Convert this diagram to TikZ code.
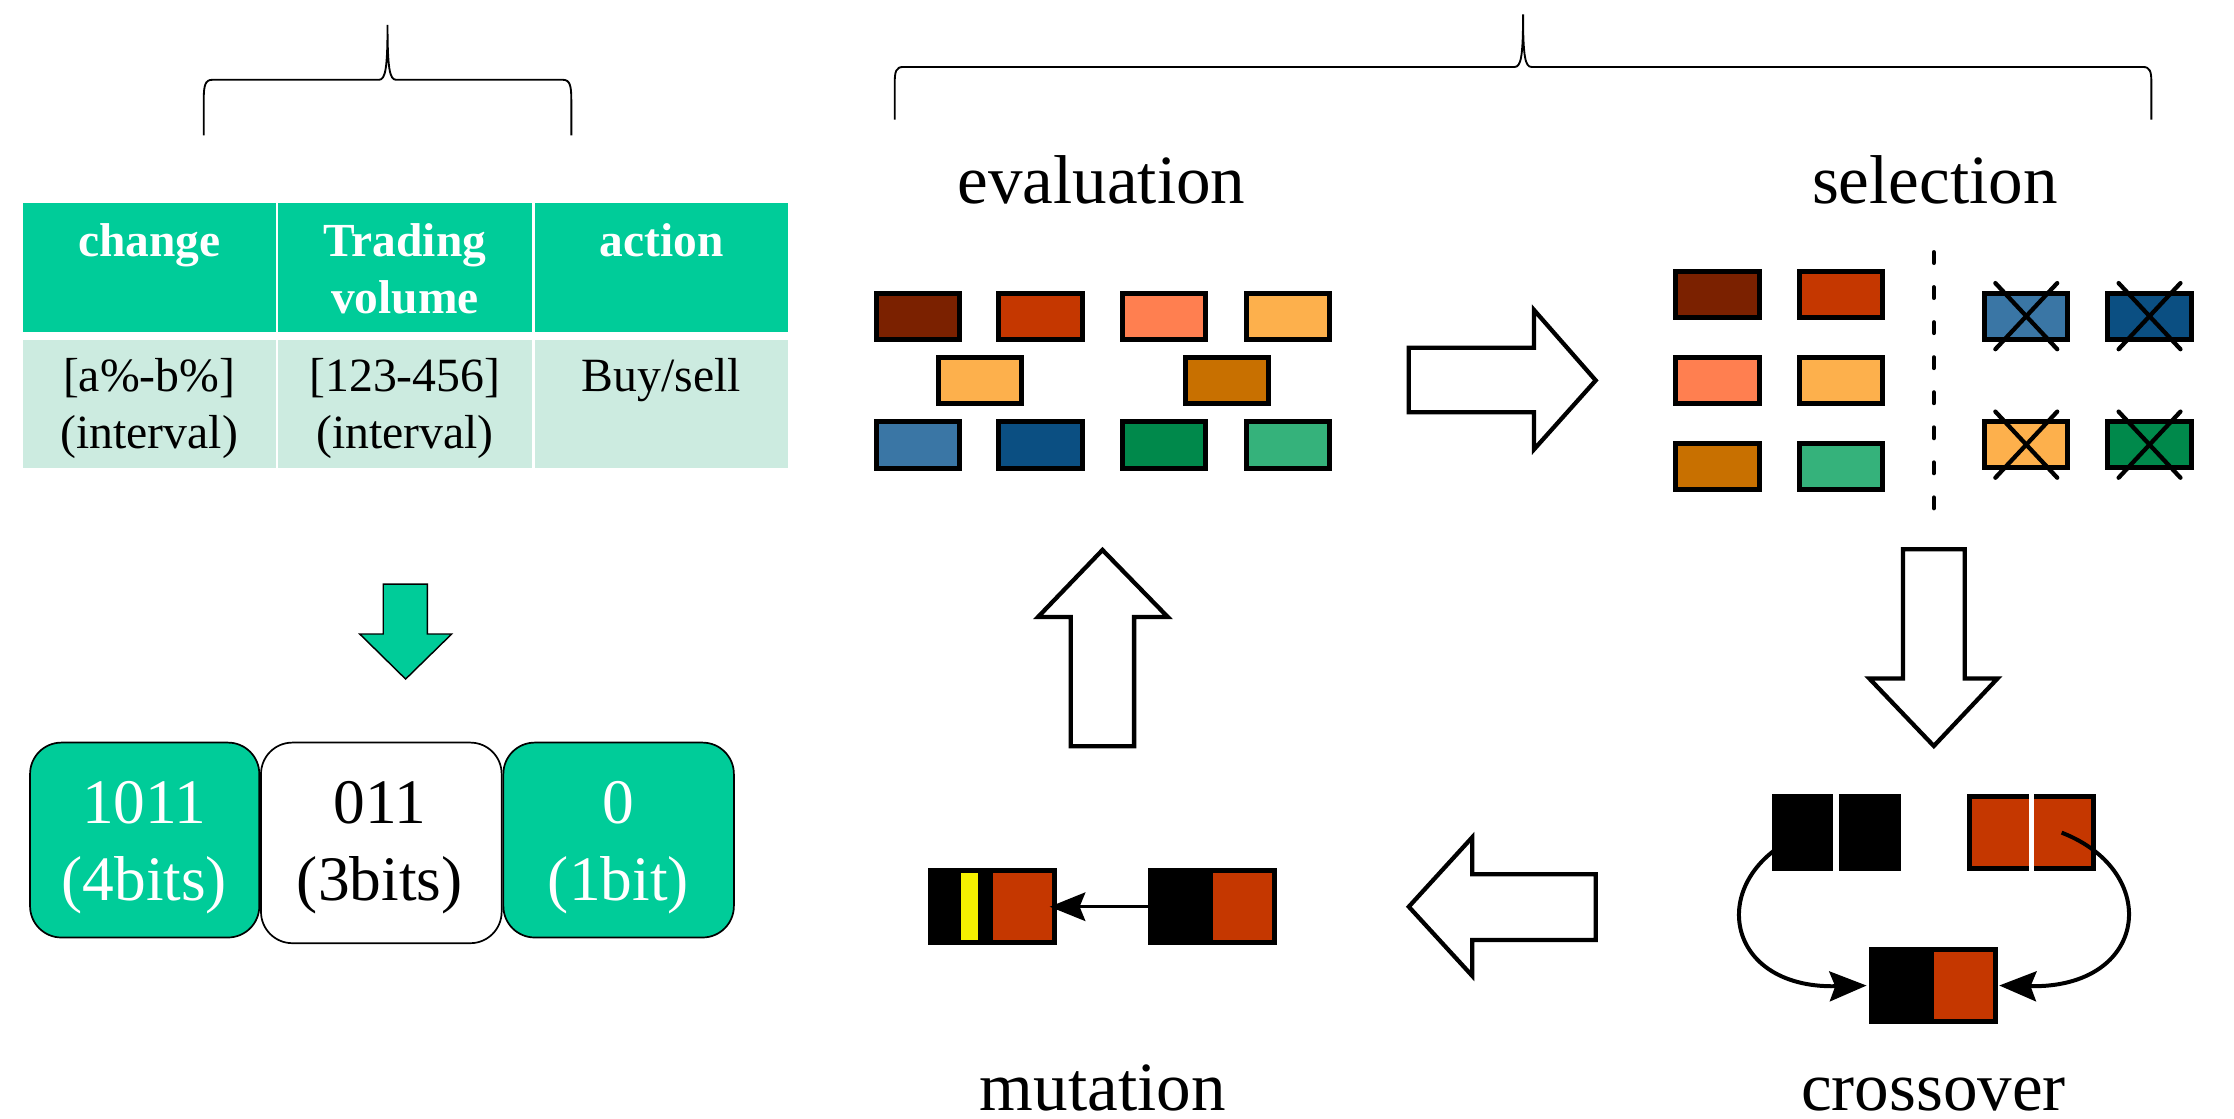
\documentclass[tikz,border=0pt]{standalone}
\usepackage{fontspec}
\setmainfont{Liberation Serif}
\usetikzlibrary{arrows.meta}

\definecolor{tblgreen}{HTML}{00CC99}
\definecolor{tbllight}{HTML}{CCEBE0}
\definecolor{gDarkBrown}{HTML}{7B2100}
\definecolor{gRust}{HTML}{C53700}
\definecolor{gCoral}{HTML}{FF7F50}
\definecolor{gApricot}{HTML}{FDB04C}
\definecolor{gOchre}{HTML}{C87000}
\definecolor{gSteel}{HTML}{3A76A5}
\definecolor{gNavy}{HTML}{0B4F82}
\definecolor{gGreen}{HTML}{00894B}
\definecolor{gMint}{HTML}{35B27B}
\definecolor{gYellow}{HTML}{F5F000}

\begin{document}
\begin{tikzpicture}[x=1pt, y=-1pt,
  brace/.style={draw=black, line width=1.3pt},
  cell/.style={inner sep=0pt, outer sep=0pt, minimum height=90pt},
  htext/.style={text=white, font=\fontsize{33.3}{40}\selectfont\bfseries, inner sep=0pt, align=center},
  btext/.style={text=black, font=\fontsize{33.5}{39.7}\selectfont, inner sep=0pt, align=center},
  bitbox/.style={draw=black, line width=1.2pt, rounded corners=22pt, inner sep=0pt, outer sep=0pt},
  bittext/.style={font=\fontsize{44.5}{53.8}\selectfont, inner sep=0pt, align=center},
  steplabel/.style={font=\fontsize{48.5}{58}\selectfont, inner sep=0pt, anchor=base},
  gene/.style={draw=black, line width=3.5pt, minimum width=58.5pt, minimum height=32.5pt, inner sep=0pt, outer sep=0pt},
  chrom/.style={draw=black, line width=3.5pt, minimum width=87pt, minimum height=50.3pt, inner sep=0pt, outer sep=0pt},
  bigarrow/.style={draw=black, fill=white, line width=3pt, line join=miter},
  xline/.style={draw=black, line width=3pt, line cap=round},
  divider/.style={draw=black, line width=3pt, line cap=round, dash pattern=on 7.5pt off 17.1pt},
  mutarrow/.style={draw=black, line width=2.3pt, -{Stealth[length=25pt, width=20pt, inset=4pt]}},
  crossarrow/.style={draw=black, line width=2.8pt, -{Stealth[length=26pt, width=21pt, inset=4pt]}}
]
\useasboundingbox (0,0) rectangle (1568,785);

% ---------- braces ----------
\draw[brace] (143,95) -- (143,70) .. controls (143,60) and (144,56) .. (149,56) -- (266,56)
  .. controls (270.5,56) and (272,48) .. (272,17.5)
  .. controls (272,48) and (273.5,56) .. (278,56) -- (395,56)
  .. controls (400,56) and (401,60) .. (401,70) -- (401,95);
\draw[brace] (628,84) -- (628,58) .. controls (628,50) and (629,47) .. (634,47) -- (1063,47)
  .. controls (1067.5,47) and (1069,40) .. (1069,10)
  .. controls (1069,40) and (1070.5,47) .. (1075,47) -- (1504,47)
  .. controls (1509,47) and (1510,50) .. (1510,58) -- (1510,84);

% ---------- rule table ----------
\node[cell, fill=tblgreen, minimum width=177.4pt, minimum height=90.5pt] (h1) at (104.7,187.55) {};
\node[cell, fill=tblgreen, minimum width=177.9pt, minimum height=90.5pt] (h2) at (284.15,187.55) {};
\node[cell, fill=tblgreen, minimum width=178pt, minimum height=90.5pt] (h3) at (464.3,187.55) {};
\node[cell, fill=tbllight, minimum width=177.4pt] (b1) at (104.7,283.7) {};
\node[cell, fill=tbllight, minimum width=177.9pt] (b2) at (284.15,283.7) {};
\node[cell, fill=tbllight, minimum width=178pt] (b3) at (464.3,283.7) {};

% (a multi-line node's base anchor sits on its last line)
\node[htext, anchor=base] (th1) at (104.7,180.2) {change};
\node[htext, anchor=base] (th2) at (284.2,220.2) {Trading\\volume};
\node[htext, anchor=base] (th3) at (464.3,180.2) {action};
\node[btext, anchor=base] (tb1) at (104.7,314.7) {[a\%-b\%]\\(interval)};
\node[btext, anchor=base] (tb2) at (284.2,314.7) {[123-456]\\(interval)};
\node[btext, anchor=base] (tb3) at (464.3,275) {Buy/sell};

% ---------- encoding arrow ----------
\filldraw[fill=tblgreen, draw=black, line width=1pt, line join=miter]
  (269,410) -- (300,410) -- (300,445) -- (317,445) -- (284.7,476.6) -- (252.5,445) -- (269,445) -- cycle;

% ---------- bit string ----------
\node[bitbox, fill=tblgreen, minimum width=160.9pt, minimum height=136.8pt] (bit1) at (101.55,589.6) {};
\node[bitbox, fill=tblgreen, minimum width=161.8pt, minimum height=136.8pt] (bit3) at (434.2,589.6) {};
\node[bitbox, fill=white, minimum width=168.9pt, minimum height=140.8pt] (bit2) at (267.65,591.6) {};
\node[bittext, text=white, anchor=base] (bt1) at (101.3,631.7) {1011\\(4bits)};
\node[bittext, text=black, anchor=base] (bt2) at (266.5,631.7) {011\\(3bits)};
\node[bittext, text=white, anchor=base] (bt3) at (434,631.7) {0\\(1bit)};

% ---------- step labels ----------
\node[steplabel] (lEval) at (773,142.6) {evaluation};
\node[steplabel] (lSel) at (1358,142.6) {selection};
\node[steplabel] (lMut) at (774,779.5) {mutation};
\node[steplabel] (lCross) at (1357,779.5) {crossover};

% ---------- evaluation population ----------
\node[gene, fill=gDarkBrown] (e1) at (644.3,222.1) {};
\node[gene, fill=gRust]      (e2) at (730.4,222.1) {};
\node[gene, fill=gCoral]     (e3) at (817.2,222.1) {};
\node[gene, fill=gApricot]   (e4) at (903.9,222.1) {};
\node[gene, fill=gApricot]   (e5) at (687.7,267.1) {};
\node[gene, fill=gOchre]     (e6) at (861.1,267.1) {};
\node[gene, fill=gSteel]     (e7) at (644.3,312.4) {};
\node[gene, fill=gNavy]      (e8) at (730.4,312.4) {};
\node[gene, fill=gGreen]     (e9) at (817.2,312.4) {};
\node[gene, fill=gMint]      (e10) at (903.9,312.4) {};

% ---------- selection ----------
\node[gene, fill=gDarkBrown] (s1) at (1205.4,206.5) {};
\node[gene, fill=gRust]      (s2) at (1292.1,206.5) {};
\node[gene, fill=gCoral]     (s3) at (1205.4,266.9) {};
\node[gene, fill=gApricot]   (s4) at (1292.1,266.9) {};
\node[gene, fill=gOchre]     (s5) at (1205.4,327.5) {};
\node[gene, fill=gMint]      (s6) at (1292.1,327.5) {};

\draw[divider] (1357.3,177) -- (1357.3,356.7);

\node[gene, fill=gSteel]   (r1) at (1422.2,221.9) {};
\node[gene, fill=gNavy]    (r2) at (1508.7,221.9) {};
\node[gene, fill=gApricot] (r3) at (1422.2,312.1) {};
\node[gene, fill=gGreen]   (r4) at (1508.7,312.1) {};
\foreach \r in {r1,r2,r3,r4}{
  \draw[xline] ([shift={(-21.7,-23.2)}]\r.center) -- ([shift={(21.7,23.2)}]\r.center);
  \draw[xline] ([shift={(-21.7,23.2)}]\r.center) -- ([shift={(21.7,-23.2)}]\r.center);
}

% ---------- cycle arrows ----------
\draw[bigarrow] (988.8,244.1) -- (1076.7,244.1) -- (1076.7,217.6) -- (1120,267)
  -- (1076.7,315.4) -- (1076.7,289.3) -- (988.8,289.3) -- cycle;
\draw[bigarrow] (1335.7,385.5) -- (1379,385.5) -- (1379,476.2) -- (1402,476.2)
  -- (1357.3,523.6) -- (1312,476.2) -- (1335.7,476.2) -- cycle;
\draw[bigarrow] (1120,613.6) -- (1120,659.8) -- (1033.3,659.8) -- (1033.3,684.9)
  -- (988.8,636.4) -- (1033.3,587.7) -- (1033.3,613.6) -- cycle;
\draw[bigarrow] (751.5,523.7) -- (796,523.7) -- (796,433) -- (819.6,433)
  -- (773.8,386) -- (728.6,433) -- (751.5,433) -- cycle;

% ---------- crossover ----------
\node[chrom, fill=black] (p1) at (1288.9,584.4) {};
\node[chrom, fill=gRust]  (p2) at (1425.7,584.4) {};
\draw[white, line width=4.2pt] ([yshift=1.75pt]p1.north) -- ([yshift=-1.75pt]p1.south);
\draw[white, line width=3.5pt] ([yshift=1.75pt]p2.north) -- ([yshift=-1.75pt]p2.south);

\node[chrom, fill=gRust] (child) at (1357.3,691.65) {};
\fill[black] ([shift={(-1.75,-1.75)}]child.north west) rectangle (child.south);

\draw[crossarrow, shorten >=3.7pt] ([xshift=-20.9pt]p1.center)
  .. controls (1197,612) and (1207,694) .. (child.west);
\draw[crossarrow, shorten >=2.4pt] ([xshift=21.3pt]p2.center)
  .. controls (1518,612) and (1508,694) .. (child.east);

% ---------- mutation ----------
\node[chrom, fill=gRust] (mutL) at (696.85,636.4) {};
\fill[black] ([shift={(-1.75,-1.75)}]mutL.north west) rectangle (mutL.south);
\fill[gYellow] ([shift={(21.2,1.75)}]mutL.north west) rectangle ([shift={(32.9,-1.75)}]mutL.south west);

\node[chrom, fill=gRust] (mutR) at (851.25,636.4) {};
\fill[black] ([shift={(-1.75,-1.75)}]mutR.north west) rectangle (mutR.south);

\draw[mutarrow, shorten >=-3.6pt] (mutR.west) -- (mutL.east);

\end{tikzpicture}
\end{document}
